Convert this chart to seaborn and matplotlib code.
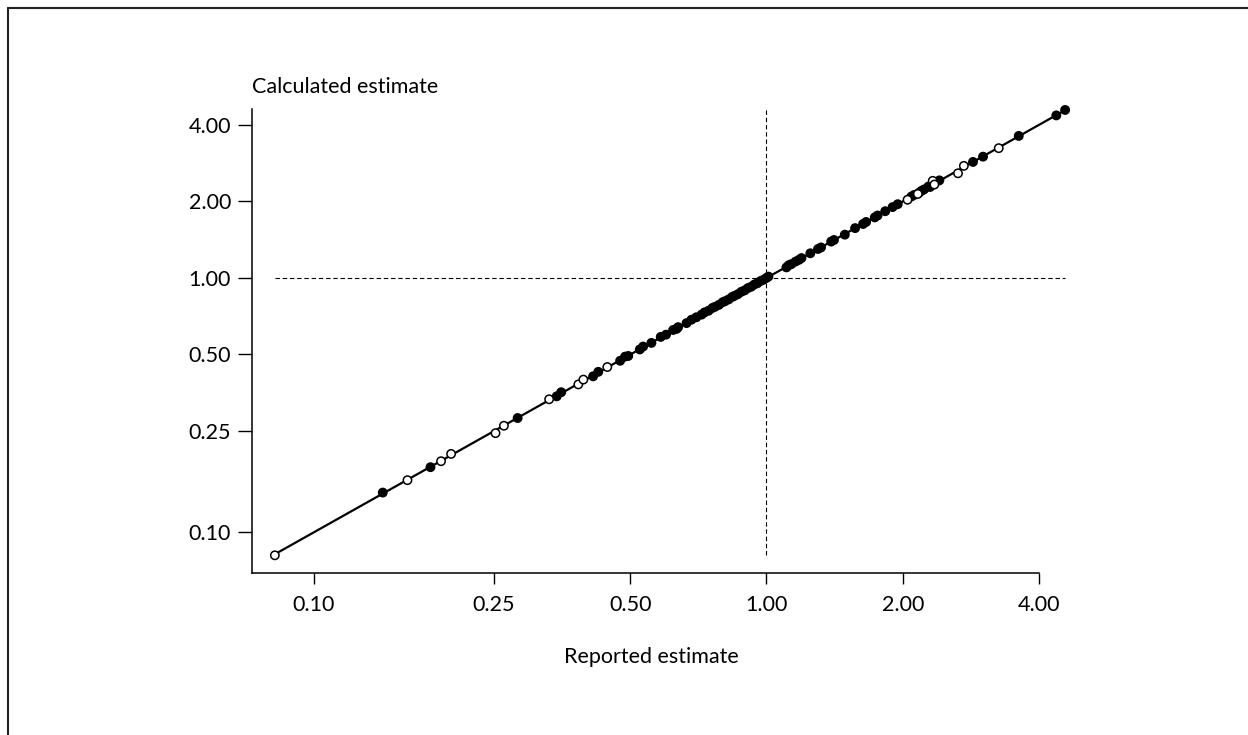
import numpy as np
import pandas as pd
import seaborn as sns
import matplotlib.pyplot as plt
from matplotlib.lines import Line2D
from matplotlib.ticker import FixedLocator, FixedFormatter, NullLocator

# Hollow markers
open_reported = [0.082, 0.161, 0.191, 0.201, 0.252, 0.263, 0.331, 0.384, 0.394, 0.445,
                 2.05, 2.16, 2.33, 2.35, 2.65, 2.73, 3.26]
open_calculated = [0.081, 0.160, 0.190, 0.203, 0.245, 0.262, 0.333, 0.381, 0.398, 0.446,
                   2.03, 2.14, 2.41, 2.33, 2.58, 2.76, 3.24]

# Solid markers
filled_reported = [0.142, 0.181, 0.282, 0.344, 0.352, 0.414, 0.425, 0.475, 0.487, 0.495,
                   0.525, 0.534, 0.557, 0.584, 0.600, 0.622, 0.633, 0.638, 0.666, 0.683,
                   0.700, 0.719, 0.730, 0.745, 0.760, 0.770, 0.785, 0.800, 0.810, 0.825,
                   0.840, 0.850, 0.865, 0.880, 0.895, 0.910, 0.925, 0.940, 0.955, 0.970,
                   0.985, 1.000, 1.010, 1.107, 1.120, 1.135, 1.160, 1.180, 1.195, 1.250,
                   1.300, 1.320, 1.390, 1.410, 1.490, 1.570, 1.635, 1.660, 1.735, 1.760,
                   1.830, 1.900, 1.950, 2.090, 2.120, 2.170, 2.200, 2.230, 2.280, 2.300,
                   2.410, 2.860, 3.010, 3.610, 4.370, 4.570]
filled_calculated = [0.143, 0.180, 0.281, 0.342, 0.355, 0.410, 0.427, 0.472, 0.490, 0.493,
                     0.523, 0.537, 0.555, 0.586, 0.598, 0.624, 0.630, 0.640, 0.664, 0.685,
                     0.700, 0.717, 0.732, 0.743, 0.762, 0.770, 0.783, 0.802, 0.810, 0.823,
                     0.842, 0.850, 0.863, 0.882, 0.893, 0.912, 0.923, 0.942, 0.953, 0.972,
                     0.983, 1.000, 1.012, 1.100, 1.122, 1.133, 1.160, 1.178, 1.197, 1.250,
                     1.300, 1.318, 1.390, 1.410, 1.480, 1.570, 1.630, 1.660, 1.730, 1.760,
                     1.830, 1.900, 1.950, 2.090, 2.120, 2.160, 2.200, 2.230, 2.290, 2.280,
                     2.420, 2.860, 3.000, 3.620, 4.360, 4.580]

tick_values = [0.10, 0.25, 0.50, 1.00, 2.00, 4.00]
tick_labels = ["0.10", "0.25", "0.50", "1.00", "2.00", "4.00"]

df = pd.concat([
    pd.DataFrame({"reported": filled_reported, "calculated": filled_calculated, "kind": "filled"}),
    pd.DataFrame({"reported": open_reported, "calculated": open_calculated, "kind": "open"}),
], ignore_index=True)

sns.set_theme(style="white")
plt.rcParams["font.family"] = ["Lato", "DejaVu Sans"]
FS = 15.5
plt.rcParams["font.size"] = FS

W, H = 1248, 735
fig = plt.figure(figsize=(W / 100, H / 100), dpi=100)
ax = fig.add_axes([252 / W, 1 - 573 / H, (1076 - 252) / W, (573 - 109) / H])
ax.set_xscale("log")
ax.set_yscale("log")
xlim = (0.0730, 4.83)
ylim = (0.0690, 4.62)
ax.set_xlim(*xlim)
ax.set_ylim(*ylim)

# Reference lines at 1
rep = df["reported"]
cal = df["calculated"]
ref_style = dict(color="black", lw=0.8, dashes=(4.0, 2.5), zorder=1)
ax.plot([rep.min(), rep.max()], [1, 1], **ref_style)
ax.plot([1, 1], [cal.min(), cal.max()], **ref_style)

# Fitted line on the log-log scale
slope, icpt = np.polyfit(np.log(rep), np.log(cal), 1)
fit_x = np.array([rep.min(), rep.max()])
fit_y = np.exp(icpt + slope * np.log(fit_x))
sns.lineplot(x=fit_x, y=fit_y, color="black", lw=1.6, ax=ax, zorder=2)

sns.scatterplot(data=df, x="reported", y="calculated", hue="kind",
                palette={"filled": "black", "open": "white"},
                edgecolor="black", linewidth=1.1, s=36, legend=False,
                ax=ax, zorder=3, clip_on=False)

for axis in (ax.xaxis, ax.yaxis):
    axis.set_major_locator(FixedLocator(tick_values))
    axis.set_major_formatter(FixedFormatter(tick_labels))
    axis.set_minor_locator(NullLocator())

for side in ("top", "right"):
    ax.spines[side].set_visible(False)
for side in ("left", "bottom"):
    ax.spines[side].set_color("black")
    ax.spines[side].set_linewidth(1.1)
ax.spines["bottom"].set_bounds(xlim[0], 4.0)

ax.tick_params(axis="y", which="major", left=True, length=10, width=1.0,
               color="black", pad=5, labelsize=FS, labelcolor="black")
ax.tick_params(axis="x", which="major", bottom=True, length=8, width=1.0,
               color="black", pad=8, labelsize=FS, labelcolor="black")

ax.set_ylabel("Calculated estimate", rotation=0, ha="left", va="baseline",
              fontsize=FS, color="black")
ax.yaxis.set_label_coords(0.0, 1 + (109 - 93) / 464)
ax.set_xlabel("Reported estimate", ha="center", va="center", fontsize=FS, color="black")
ax.xaxis.set_label_coords((651 - 252) / 824, -(657 - 573) / 464)

# Partial frame around the figure
x0, y0 = 7.5 / W, 1 - 8 / H
fig.add_artist(Line2D([x0, x0], [0, y0], color="#222222", lw=1.5, transform=fig.transFigure))
fig.add_artist(Line2D([x0, 1], [y0, y0], color="#222222", lw=1.5, transform=fig.transFigure))

fig.savefig("out.png", dpi=100)
